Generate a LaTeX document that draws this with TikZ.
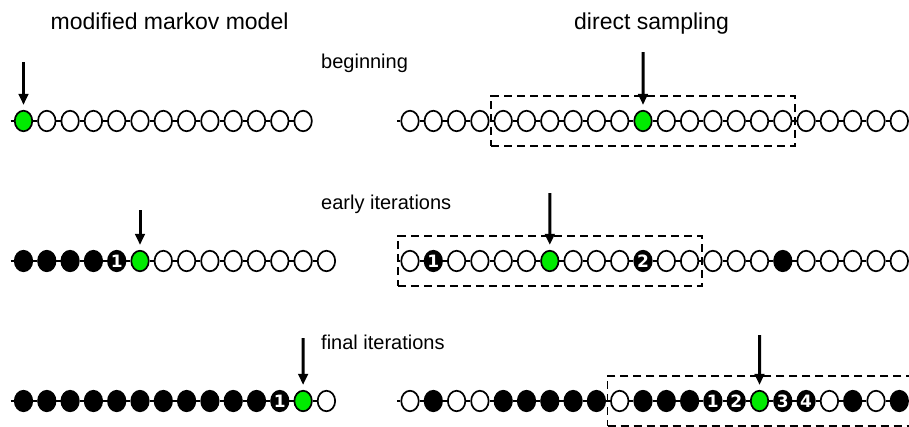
\documentclass[tikz,border=0pt]{standalone}
\usepackage{fontspec}
\setmainfont{Liberation Sans}
\newfontfamily\digitfont{DejaVu Sans}
\usetikzlibrary{shapes.geometric,arrows.meta,fit}
\definecolor{curgreen}{RGB}{0,235,0}
\tikzset{
  site/.style={ellipse,draw=black,line width=1.7pt,minimum width=17.5pt,minimum height=20.5pt,inner sep=0pt},
  ow/.style={site,fill=white},
  bk/.style={site,fill=black},
  gr/.style={site,fill=curgreen},
  digit/.style={text=white,font=\digitfont\bfseries\fontsize{17}{17}\selectfont,inner sep=0pt},
  num/.style={bk,label={[digit]center:#1}},
  n1/.style={num=1},
  n2/.style={num=2},
  n3/.style={num=3},
  n4/.style={num=4},
  chain/.style={line width=1.7pt},
  pointer/.style={line width=3pt,-{Triangle[length=11pt,width=9.5pt]},shorten >=5pt},
  window/.style={draw,dash pattern=on 8pt off 5pt,line width=1.6pt,inner xsep=2.5pt,inner ysep=14pt},
  title/.style={anchor=base west,font=\fontsize{23}{27}\selectfont,inner sep=0pt},
  stage/.style={anchor=base west,font=\fontsize{20}{24}\selectfont,inner sep=0pt},
}
% one row of sites: name, x of first site, y, list of site styles
\newcommand\chainrow[4]{%
  \coordinate (#1-s) at ({#2-13},#3);
  \foreach \s [count=\i from 0] in {#4} {
    \node[\s] (#1-\i) at ({#2+23.3*\i},#3) {};
  }
  \draw[chain] (#1-s) -- (#1-0);
  \foreach \s [count=\i from 0] in {#4} {
    \ifnum\i>0
      \pgfmathtruncatemacro\p{\i-1}
      \draw[chain] (#1-\p) -- (#1-\i);
    \fi
  }
}
\begin{document}
\begin{tikzpicture}[x=1pt,y=-1pt]
\useasboundingbox (0,0) rectangle (909,426);
\fill[white] (0,0) rectangle (909,426);

% headings
\node[title] (h1) at (50.5,29.5) {modified markov model};
\node[title] (h2) at (574,29.5) {direct sampling};
\node[stage] (s1) at (321,68) {beginning};
\node[stage] (s2) at (321,209) {early iterations};
\node[stage] (s3) at (321,349) {final iterations};

% beginning
\chainrow{r1l}{23.5}{121}{gr,ow,ow,ow,ow,ow,ow,ow,ow,ow,ow,ow,ow}
\chainrow{r1r}{410}{121}{ow,ow,ow,ow,ow,ow,ow,ow,ow,ow,gr,ow,ow,ow,ow,ow,ow,ow,ow,ow,ow,ow}
\node[window,fit=(r1r-4)(r1r-16)] (w1) {};
\coordinate (a1) at (23.5,62);
\coordinate (b1) at (643,52);
\draw[pointer] (a1) -- (r1l-0.north);
\draw[pointer] (b1) -- (r1r-10.north);

% early iterations
\chainrow{r2l}{23.5}{261}{bk,bk,bk,bk,n1,gr,ow,ow,ow,ow,ow,ow,ow,ow}
\chainrow{r2r}{410}{261}{ow,n1,ow,ow,ow,ow,gr,ow,ow,ow,n2,ow,ow,ow,ow,ow,bk,ow,ow,ow,ow,ow}
\node[window,fit=(r2r-0)(r2r-12)] (w2) {};
\coordinate (a2) at (140,210);
\coordinate (b2) at (549.8,193);
\draw[pointer] (a2) -- (r2l-5.north);
\draw[pointer] (b2) -- (r2r-6.north);

% final iterations
\chainrow{r3l}{23.5}{401}{bk,bk,bk,bk,bk,bk,bk,bk,bk,bk,bk,n1,gr,ow}
\chainrow{r3r}{410}{401}{ow,bk,ow,ow,bk,bk,bk,bk,bk,ow,bk,bk,bk,n1,n2,gr,n3,n4,ow,bk,ow,bk}
\node[window,fit=(r3r-9)(r3r-21)] (w3) {};
\coordinate (a3) at (303.1,338);
\coordinate (b3) at (759.5,335);
\draw[pointer] (a3) -- (r3l-12.north);
\draw[pointer] (b3) -- (r3r-15.north);
\end{tikzpicture}
\end{document}
